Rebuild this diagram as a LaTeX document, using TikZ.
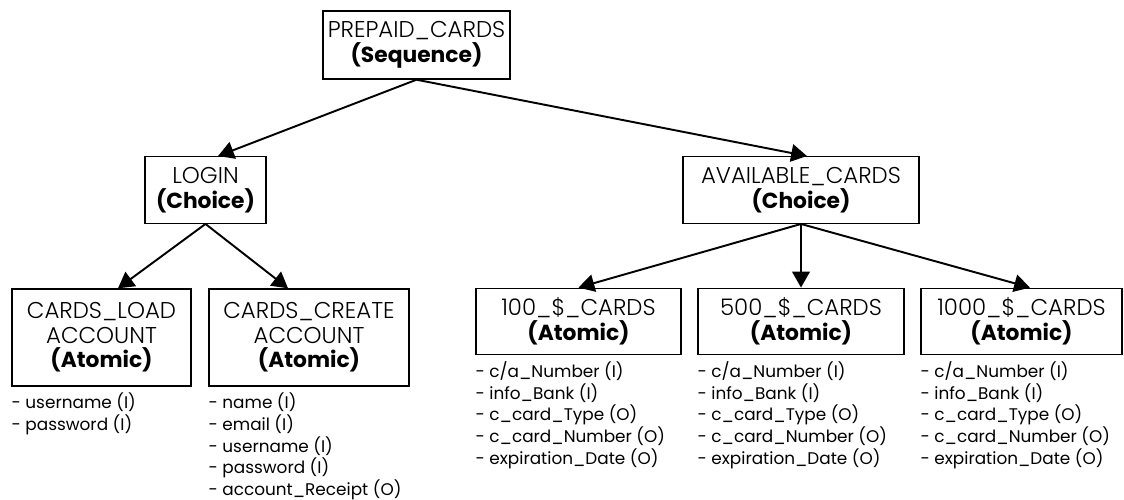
\documentclass[tikz,border=0pt]{standalone}
\usepackage{fontspec}
\setmainfont{Poppins}
\newfontfamily\thinfont{Poppins Light}
\newcommand{\kind}[1]{{\fontsize{12.4}{14}\selectfont\rmfamily\bfseries #1}}
\usetikzlibrary{shapes,arrows.meta,positioning,calc}

\begin{document}
\begin{tikzpicture}[
    node distance=2.9cm,
    every node/.style={font=\fontsize{13}{14}\selectfont\thinfont},
    block/.style={rectangle, draw, line width=0.8pt, align=center, inner sep=2pt, minimum height=1.33cm},
    io/.style={align=left, inner sep=0pt, font=\fontsize{9.6}{12.3}\selectfont\rmfamily},
    arrow/.style={-{Triangle[width=10pt,length=9pt]}, line width=1.1pt}
]
    \useasboundingbox (0,0) rectangle (22.48,-9.98);

    \node[block, minimum width=3.74cm, minimum height=1.36cm] (prepaid) at (8.33,-0.9) {PREPAID\_CARDS\\\kind{(Sequence)}};
    \node[block, minimum width=2.42cm, below of=prepaid, xshift=-4.22cm] (login) {LOGIN\\\kind{(Choice)}};
    \node[block, minimum width=4.72cm, below of=prepaid, xshift=7.69cm] (available) {AVAILABLE\_CARDS\\\kind{(Choice)}};

    \node[block, minimum width=3.58cm, minimum height=1.94cm, below of=login, xshift=-2.08cm, yshift=-0.05cm] (loadacc) {CARDS\_LOAD\\ACCOUNT\\\kind{(Atomic)}};
    \node[block, minimum width=4.0cm, minimum height=1.94cm, below of=login, xshift=2.07cm, yshift=-0.05cm] (createacc) {CARDS\_CREATE\\ACCOUNT\\\kind{(Atomic)}};

    \node[block, minimum width=4.1cm, below of=available, xshift=-4.45cm, yshift=0.27cm] (cards100) {100\_\$\_CARDS\\\kind{(Atomic)}};
    \node[block, minimum width=4.12cm, below of=available, yshift=0.27cm] (cards500) {500\_\$\_CARDS\\\kind{(Atomic)}};
    \node[block, minimum width=4.02cm, below of=available, xshift=4.41cm, yshift=0.27cm] (cards1000) {1000\_\$\_CARDS\\\kind{(Atomic)}};

    % inputs / outputs
    \node[io, below right=0.12cm and 0cm of loadacc.south west] (loadio) {- username (I)\\- password (I)};
    \node[io, below right=0.12cm and 0cm of createacc.south west] (createio) {- name (I)\\- email (I)\\- username (I)\\- password (I)\\- account\_Receipt (O)};
    \node[io, below right=0.12cm and 0cm of cards100.south west] (io100) {- c/a\_Number (I)\\- info\_Bank (I)\\- c\_card\_Type (O)\\- c\_card\_Number (O)\\- expiration\_Date (O)};
    \node[io, below right=0.12cm and 0cm of cards500.south west] (io500) {- c/a\_Number (I)\\- info\_Bank (I)\\- c\_card\_Type (O)\\- c\_card\_Number (O)\\- expiration\_Date (O)};
    \node[io, below right=0.12cm and 0cm of cards1000.south west] (io1000) {- c/a\_Number (I)\\- info\_Bank (I)\\- c\_card\_Type (O)\\- c\_card\_Number (O)\\- expiration\_Date (O)};

    \draw[arrow] (prepaid.south) -- ([xshift=0.25cm]login.north);
    \draw[arrow] (prepaid.south) -- ([xshift=0.12cm]available.north);
    \draw[arrow] (login.south) -- ([xshift=0.33cm]loadacc.north);
    \draw[arrow] (login.south) -- ([xshift=-0.42cm]createacc.north);
    \draw[arrow] (available.south) -- (cards100.north);
    \draw[arrow] (available.south) -- (cards500.north);
    \draw[arrow] (available.south) -- ([xshift=0.17cm]cards1000.north);
\end{tikzpicture}
\end{document}
